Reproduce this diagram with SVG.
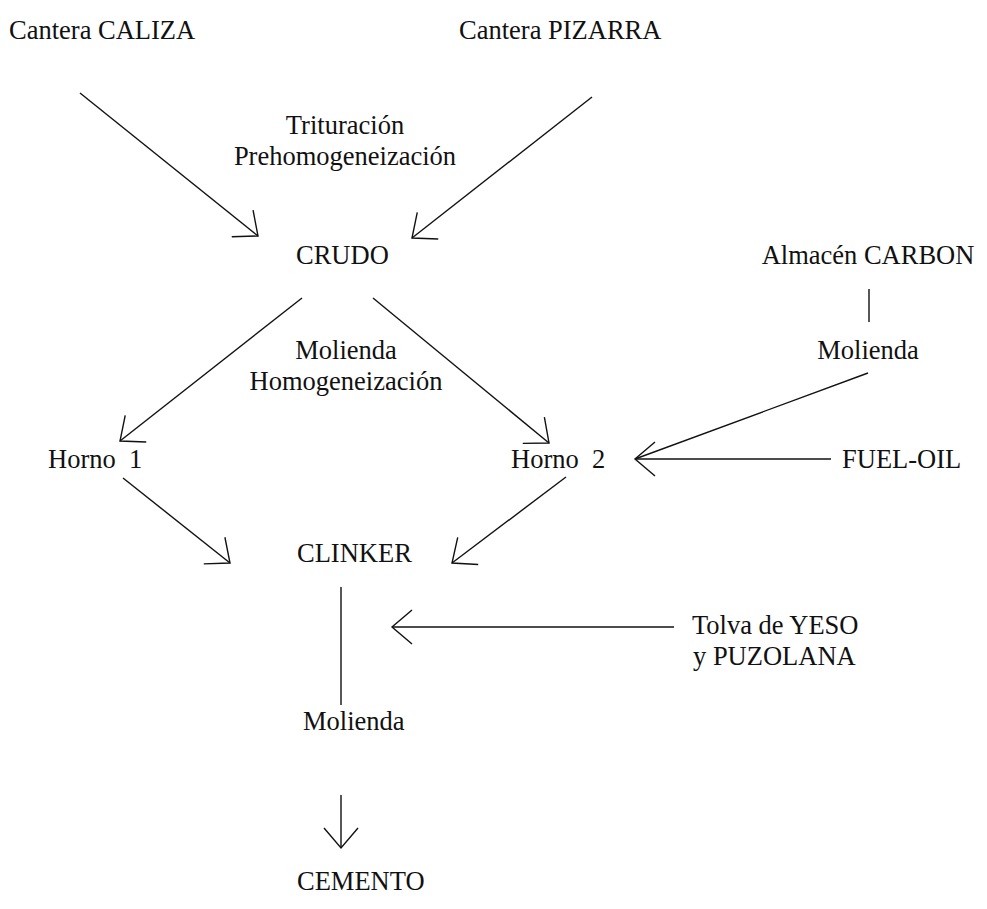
<svg xmlns="http://www.w3.org/2000/svg" width="987" height="909" viewBox="0 0 987 909">
<style>
text{font-family:"Liberation Serif","Times New Roman",serif;font-size:26.5px;fill:#111}
.c line{stroke:#111;stroke-width:1.4;fill:none}
.a{marker-end:url(#ah)}
</style>
<defs>
<marker id="ah" markerUnits="userSpaceOnUse" viewBox="-24 -20 26 40" markerWidth="26" markerHeight="40" refX="0" refY="0" orient="auto" overflow="visible">
<path d="M-20,-17 L0,0 L-20,17" fill="none" stroke="#111" stroke-width="1.4"/>
</marker>
</defs>
<rect width="987" height="909" fill="#fff"/>
<g id="caliza"><text x="9" y="39">Cantera CALIZA</text></g>
<g id="pizarra"><text x="459" y="39">Cantera PIZARRA</text></g>
<g id="trituracion"><text x="345" y="134" text-anchor="middle">Trituración</text><text x="345" y="165" text-anchor="middle">Prehomogeneización</text></g>
<g id="crudo"><text x="296" y="264">CRUDO</text></g>
<g id="carbon"><text x="868" y="264" text-anchor="middle">Almacén CARBON</text></g>
<g id="molienda1"><text x="868" y="359" text-anchor="middle">Molienda</text></g>
<g id="molienda2"><text x="346" y="359" text-anchor="middle">Molienda</text><text x="346" y="390" text-anchor="middle">Homogeneización</text></g>
<g id="horno1"><text x="48" y="468" xml:space="preserve">Horno  1</text></g>
<g id="horno2"><text x="511" y="468" xml:space="preserve">Horno  2</text></g>
<g id="fueloil"><text x="842" y="468">FUEL-OIL</text></g>
<g id="clinker"><text x="297" y="562">CLINKER</text></g>
<g id="yeso"><text x="692" y="634">Tolva de YESO</text><text x="693" y="665">y PUZOLANA</text></g>
<g id="molienda3"><text x="303" y="730">Molienda</text></g>
<g id="cemento"><text x="297" y="890">CEMENTO</text></g>
<g id="connectors" class="c">
<line class="a" x1="80" y1="93" x2="258" y2="236"/>
<line class="a" x1="592" y1="97" x2="412" y2="238"/>
<line x1="869" y1="289" x2="869" y2="322"/>
<line class="a" x1="302" y1="298" x2="120" y2="441"/>
<line class="a" x1="373" y1="298" x2="549" y2="443"/>
<line x1="868" y1="373" x2="635" y2="459"/>
<line class="a" x1="831" y1="459" x2="635" y2="459"/>
<line class="a" x1="123" y1="478" x2="230" y2="563"/>
<line class="a" x1="566" y1="477" x2="452" y2="563"/>
<line x1="341" y1="587" x2="341" y2="705"/>
<line class="a" x1="674" y1="627" x2="392" y2="627"/>
<line class="a" x1="341" y1="795" x2="341" y2="848"/>
</g>
</svg>
